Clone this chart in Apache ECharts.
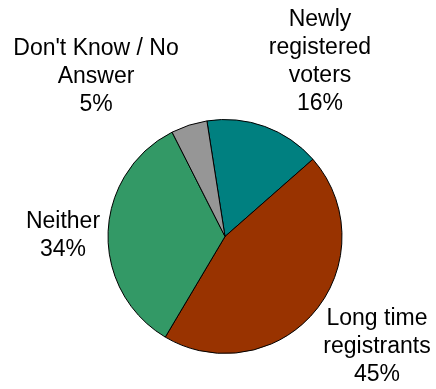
<!DOCTYPE html>
<html>
<head>
<meta charset="utf-8">
<script src="https://cdn.jsdelivr.net/npm/echarts@6/dist/echarts.min.js"></script>
<style>
  html, body { margin: 0; padding: 0; background: #fff; }
  #chart { width: 436px; height: 389px; }
</style>
</head>
<body>
<div id="chart"></div>
<script>
// Voter registration breakdown (clockwise from the top)
const categories = ['Newly\nregistered\nvoters', 'Long time\nregistrants', 'Neither', "Don't Know / No\nAnswer"];
const shares = [16, 45, 34, 5];
const sliceColors = ['#008080', '#993300', '#339966', '#969696'];

// Where each slice's label block is centred
const labelCentres = [[320, 62], [377, 347], [63, 236], [96, 77]];

const chart = echarts.init(document.getElementById('chart'), null, { renderer: 'canvas' });

chart.setOption({
  animation: false,
  backgroundColor: '#ffffff',
  series: [{
    type: 'pie',
    center: [225, 236.5],
    radius: 117,
    startAngle: 98.9,
    clockwise: true,
    avoidLabelOverlap: false,
    emphasis: { disabled: true },
    itemStyle: { borderColor: '#000', borderWidth: 1 },
    label: {
      show: true,
      position: 'outside',
      formatter: p => p.name + '\n' + p.value + '%',
      fontFamily: 'Liberation Sans, Arial, sans-serif',
      fontSize: 23,
      lineHeight: 28,
      color: '#000',
      align: 'center'
    },
    labelLine: { show: false },
    labelLayout: params => ({
      x: labelCentres[params.dataIndex][0],
      y: labelCentres[params.dataIndex][1],
      align: 'center',
      verticalAlign: 'middle'
    }),
    data: categories.map((name, i) => ({
      name: name,
      value: shares[i],
      itemStyle: { color: sliceColors[i] }
    }))
  }]
});
</script>
</body>
</html>
